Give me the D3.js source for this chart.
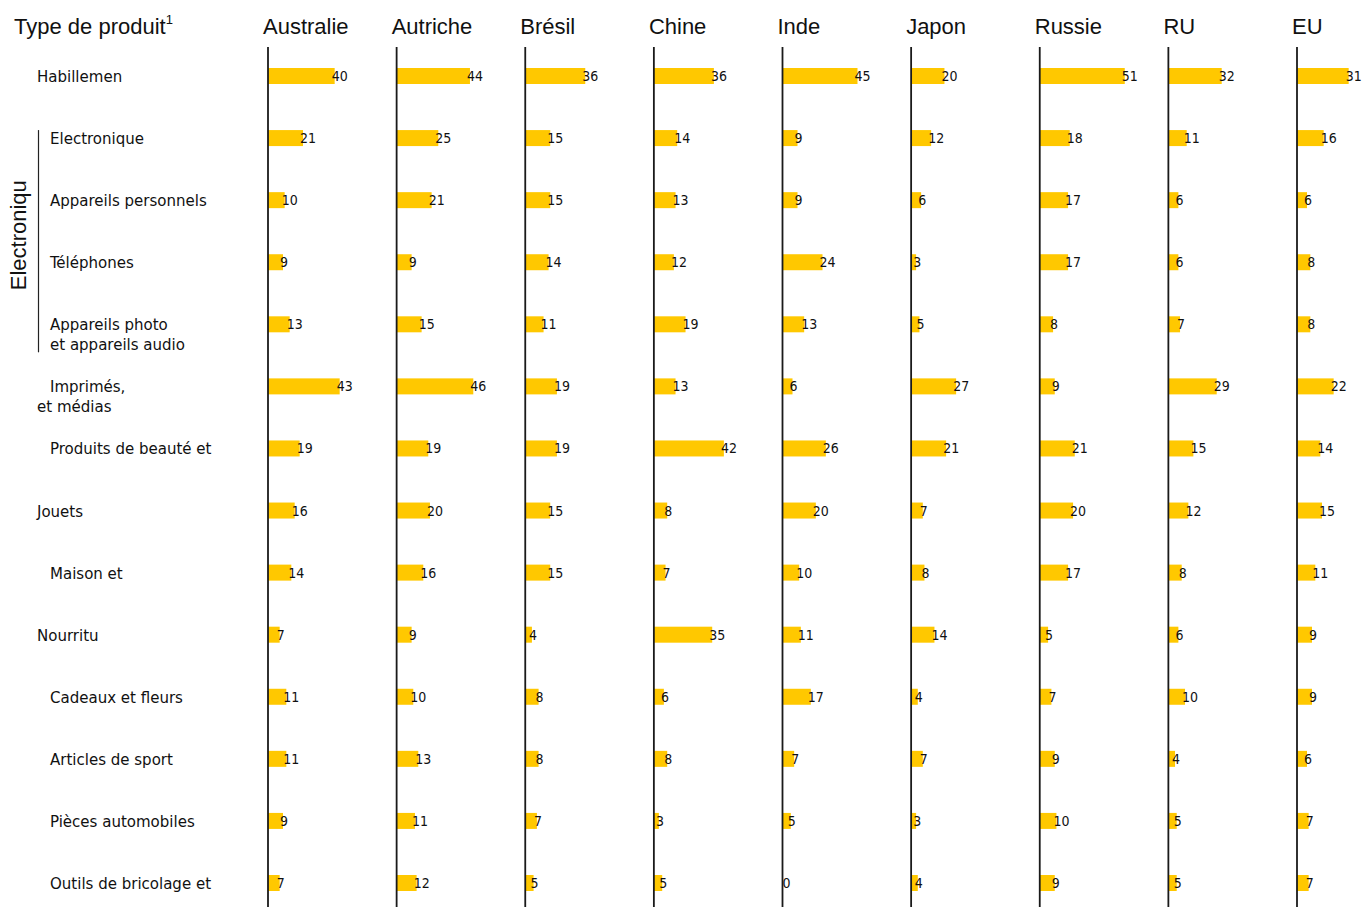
<!DOCTYPE html>
<html><head><meta charset="utf-8">
<script src="https://cdn.jsdelivr.net/npm/d3@7"></script>
<style>body{margin:0;background:#fff}svg{display:block}</style>
</head><body>
<svg id="c" width="1363" height="907"></svg>
<script>
const countries = ["Australie","Autriche","Brésil","Chine","Inde","Japon","Russie","RU","EU"];
const products = ["Habillemen","Electronique","Appareils personnels","Téléphones","Appareils photo\net appareils audio","Imprimés,\net médias","Produits de beauté et","Jouets","Maison et","Nourritu","Cadeaux et fleurs","Articles de sport","Pièces automobiles","Outils de bricolage et"];
const indented = [false,true,true,true,true,true,true,false,true,false,true,true,true,true];
const groupLabel = "Electroniqu";
const headerLabel = "Type de produit";
const footnote = "1";
const valAustralie = [40,21,10,9,13,43,19,16,14,7,11,11,9,7];
const valAutriche  = [44,25,21,9,15,46,19,20,16,9,10,13,11,12];
const valBresil    = [36,15,15,14,11,19,19,15,15,4,8,8,7,5];
const valChine     = [36,14,13,12,19,13,42,8,7,35,6,8,3,5];
const valInde      = [45,9,9,24,13,6,26,20,10,11,17,7,5,0];
const valJapon     = [20,12,6,3,5,27,21,7,8,14,4,7,3,4];
const valRussie    = [51,18,17,17,8,9,21,20,17,5,7,9,10,9];
const valRU        = [32,11,6,6,7,29,15,12,8,6,10,4,5,5];
const valEU        = [31,16,6,8,8,22,14,15,11,9,9,6,7,7];
const series = [valAustralie,valAutriche,valBresil,valChine,valInde,valJapon,valRussie,valRU,valEU];

const svg = d3.select("#c");
const colX = d3.scalePoint().domain(countries).range([268, 1297]);
const rowY = d3.scalePoint().domain(d3.range(products.length)).range([76, 883]);
const len = d3.scaleLinear().domain([0, 51]).range([0, 85]);
const barH = 16;
const labFont = "'DejaVu Sans Condensed','DejaVu Sans',sans-serif";
const hdrFont = "'Liberation Sans',Arial,sans-serif";

// header
const hdr = svg.append("text").attr("x", 14).attr("y", 34)
  .attr("font-family", hdrFont).attr("font-size", 22).attr("fill", "#111");
hdr.append("tspan").text(headerLabel);
hdr.append("tspan").attr("dy", -10).attr("font-size", 13).text(footnote);

svg.selectAll("text.country").data(countries).join("text")
  .attr("class", "country")
  .attr("x", d => colX(d) - 5).attr("y", 34)
  .attr("font-family", hdrFont).attr("font-size", 22).attr("fill", "#111")
  .text(d => d);

// row labels
products.forEach((p, i) => {
  const lines = p.split("\n");
  const x0 = indented[i] ? 50 : 37;
  lines.forEach((ln, j) => {
    let x = x0;
    if (j > 0 && i === 5) x = 37;
    svg.append("text").attr("x", x).attr("y", rowY(i) + 6 + j * 20)
      .attr("font-family", labFont).attr("font-size", 16.7).attr("fill", "#111").text(ln);
  });
});

// group bracket
svg.append("line").attr("x1", 38.5).attr("x2", 38.5).attr("y1", rowY(1) - 8).attr("y2", rowY(4) + 28)
  .attr("stroke", "#222").attr("stroke-width", 1.2);
svg.append("text").attr("transform", `translate(26,${(rowY(1)+rowY(4))/2 + 4}) rotate(-90)`)
  .attr("text-anchor", "middle")
  .attr("font-family", hdrFont).attr("font-size", 22).attr("fill", "#111")
  .text(groupLabel);

// panels
countries.forEach((c, ci) => {
  const g = svg.append("g").attr("transform", `translate(${colX(c)},0)`);
  const vals = series[ci];
  g.selectAll("rect").data(vals).join("rect")
    .attr("x", 0).attr("y", (d, i) => rowY(i) - barH / 2)
    .attr("width", d => len(d)).attr("height", barH)
    .attr("fill", "#ffc800");
  g.append("line").attr("x1", 0).attr("x2", 0).attr("y1", 47).attr("y2", 907)
    .attr("stroke", "#1a1a1a").attr("stroke-width", 1.8);
  g.selectAll("text").data(vals).join("text")
    .attr("x", d => Math.max(len(d) - 3, 0)).attr("y", (d, i) => rowY(i) + 5)
    .attr("font-family", labFont).attr("font-size", 14).attr("fill", "#111")
    .text(d => d);
});
</script>
</body></html>
